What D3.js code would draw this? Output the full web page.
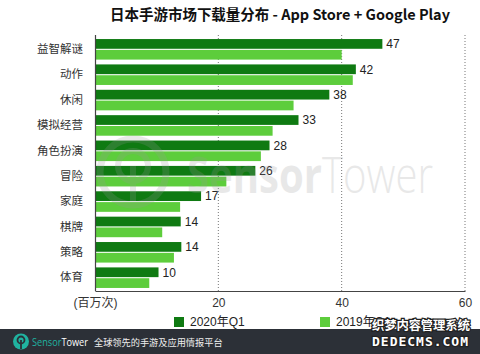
<!DOCTYPE html>
<html><head><meta charset="utf-8">
<script src="https://cdn.jsdelivr.net/npm/d3@7"></script>
<style>
html,body{margin:0;padding:0;background:#fff;}
svg{display:block;}
</style></head>
<body>
<svg id="chart" width="480" height="354"></svg>
<script>
const categories = ["益智解谜","动作","休闲","模拟经营","角色扮演","冒险","家庭","棋牌","策略","体育"];
const seriesNames = ["2020年Q1","2019年Q1"];
const values2020 = [46.6, 42.3, 38, 33, 28.3, 26, 17.2, 13.9, 14, 10.3];
const values2019 = [40, 41.8, 32.2, 28.8, 26.9, 21.3, 13.8, 10.9, 12.8, 8.8];
const labels2020 = ["47","42","38","33","28","26","17","14","14","10"];
const tickValues = [0, 20, 40, 60];
const tickLabels = ["(百万次)", "20", "40", "60"];
const colors = ["#0f7a12", "#5dcd3c"];

const svg = d3.select("#chart");
const FONT = "'Liberation Sans', Arial, 'Noto Sans CJK SC', sans-serif";
const CJK = "'Noto Sans CJK SC', sans-serif";

const x = d3.scaleLinear().domain([0, 60]).range([95, 465]);
const y = d3.scaleBand().domain(categories).range([36, 291]).paddingInner(0.19).paddingOuter(0.12);
const ys = d3.scaleBand().domain(seriesNames).range([0, y.bandwidth()]).paddingInner(0.1);

// title
svg.append("text").attr("x", 280).attr("y", 20).attr("text-anchor", "middle")
  .attr("font-family", CJK).attr("font-weight", "bold").attr("font-size", 14.5).attr("fill", "#111")
  .attr("textLength", 340)
  .text("日本手游市场下载量分布 - App Store + Google Play");

// gridlines
svg.append("g").selectAll("line").data(tickValues.filter(d => d > 0)).join("line")
  .attr("x1", d => x(d)).attr("x2", d => x(d)).attr("y1", 35).attr("y2", 291)
  .attr("stroke", "#777").attr("stroke-width", 1).attr("stroke-dasharray", "1,2");

// bars
const data = categories.map((c, i) => ({cat: c, vals: [values2020[i], values2019[i]], label: labels2020[i]}));
const groups = svg.append("g").selectAll("g").data(data).join("g")
  .attr("transform", d => `translate(0,${y(d.cat)})`);
groups.selectAll("rect").data(d => d.vals.map((v, j) => ({v, s: seriesNames[j], j}))).join("rect")
  .attr("x", x(0)).attr("y", d => ys(d.s)).attr("height", ys.bandwidth())
  .attr("width", d => x(d.v) - x(0)).attr("fill", d => colors[d.j]);

// background watermark
const wm = svg.append("g").attr("opacity", 0.22);
wm.append("circle").attr("cx", 133).attr("cy", 172).attr("r", 33).attr("fill", "none").attr("stroke", "#999").attr("stroke-width", 7);
wm.append("circle").attr("cx", 133).attr("cy", 166).attr("r", 15).attr("fill", "none").attr("stroke", "#999").attr("stroke-width", 6);
wm.append("line").attr("x1", 133).attr("x2", 133).attr("y1", 166).attr("y2", 203).attr("stroke", "#999").attr("stroke-width", 6);
wm.append("text").attr("x", 187).attr("y", 193).attr("font-family", "'Open Sans', sans-serif")
  .attr("font-size", 50).attr("fill", "#999").attr("textLength", 246).attr("lengthAdjust", "spacingAndGlyphs")
  .call(t => { t.append("tspan").attr("font-weight", "bold").text("Sensor"); t.append("tspan").attr("font-weight", 300).text("Tower"); });

// value labels
groups.append("text")
  .attr("x", d => x(d.vals[0]) + 4).attr("y", ys(seriesNames[0]) + ys.bandwidth() / 2)
  .attr("dy", "0.36em").attr("font-family", FONT).attr("font-size", 12).attr("fill", "#222")
  .text(d => d.label);

// axes
const xAxis = d3.axisBottom(x).tickValues(tickValues).tickSize(0).tickPadding(7)
  .tickFormat((d, i) => tickLabels[i]);
const gx = svg.append("g").attr("transform", "translate(0,291)").call(xAxis);
gx.select(".domain").attr("stroke", "#444").attr("stroke-width", 1.2);
gx.selectAll("text").attr("font-family", FONT).attr("font-size", 12).attr("fill", "#333");

const yAxis = d3.axisLeft(y).tickSize(0).tickPadding(12);
const gy = svg.append("g").attr("transform", `translate(${x(0)},0)`).call(yAxis);
gy.select(".domain").attr("d", "M0.5,35V291").attr("stroke", "#444").attr("stroke-width", 1.2);
gy.selectAll("text").attr("font-family", CJK).attr("font-size", 11.5).attr("fill", "#333");

// legend
const legendX = [174, 320];
const lg = svg.append("g").selectAll("g").data(seriesNames).join("g")
  .attr("transform", (d, i) => `translate(${legendX[i]},317)`);
lg.append("rect").attr("width", 10).attr("height", 10).attr("fill", (d, i) => colors[i]);
lg.append("text").attr("x", 16).attr("y", 5).attr("dy", "0.36em")
  .attr("font-family", FONT).attr("font-size", 12).attr("fill", "#222").text(d => d);

// footer
svg.append("rect").attr("x", 0).attr("y", 329).attr("width", 480).attr("height", 25).attr("fill", "#2c3037");
svg.append("circle").attr("cx", 21).attr("cy", 341.5).attr("r", 8).attr("fill", "#20b3a0");
svg.append("circle").attr("cx", 21).attr("cy", 340).attr("r", 3.5).attr("fill", "none").attr("stroke", "#2c3037").attr("stroke-width", 1.8);
svg.append("line").attr("x1", 21).attr("x2", 21).attr("y1", 340).attr("y2", 349).attr("stroke", "#2c3037").attr("stroke-width", 1.8);
svg.append("text").attr("x", 32).attr("y", 346).attr("font-family", "'Open Sans', sans-serif").attr("font-size", 11)
  .attr("textLength", 56).attr("lengthAdjust", "spacingAndGlyphs")
  .call(t => { t.append("tspan").attr("fill", "#20b3a0").text("Sensor"); t.append("tspan").attr("fill", "#fff").text("Tower"); });
svg.append("text").attr("x", 94).attr("y", 345.5).attr("font-family", CJK).attr("font-size", 9.2).attr("fill", "#eee")
  .text("全球领先的手游及应用情报平台");

// overlay watermark
svg.append("text").attr("x", 372).attr("y", 330).attr("font-family", CJK).attr("font-weight", "bold").attr("font-size", 12.5)
  .attr("fill", "#fff").attr("stroke", "#222").attr("stroke-width", 2.5).attr("paint-order", "stroke")
  .attr("textLength", 98).text("织梦内容管理系统");
svg.append("text").attr("x", 372).attr("y", 346).attr("font-family", "'DejaVu Sans Mono', monospace").attr("font-weight", "bold").attr("font-size", 13)
  .attr("fill", "#fff").attr("stroke", "#222").attr("stroke-width", 2.5).attr("paint-order", "stroke")
  .attr("textLength", 96).text("DEDECMS.COM");
</script>
</body></html>
